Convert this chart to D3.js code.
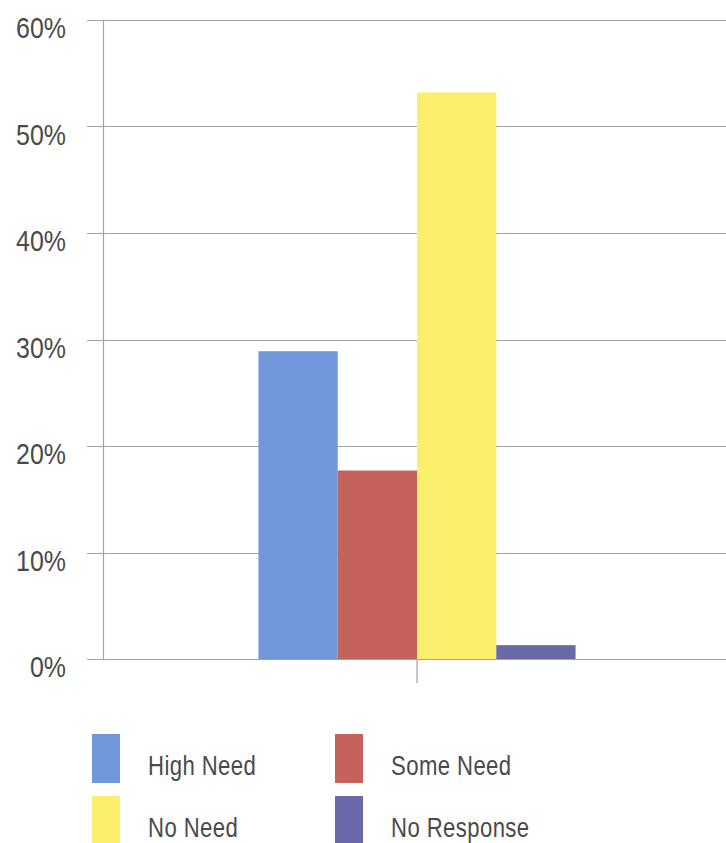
<!DOCTYPE html>
<html>
<head>
<meta charset="utf-8">
<script src="https://cdn.jsdelivr.net/npm/d3@7"></script>
<style>
  html, body { margin: 0; padding: 0; background: #fff; }
  svg { display: block; }
  text { font-family: "Liberation Sans", Arial, sans-serif; fill: #4a4a4a; }
</style>
</head>
<body>
<svg id="chart" width="726" height="843"></svg>
<script>
// Share of respondents by level of need
const categories = [""];
const seriesNames = ["High Need", "Some Need", "No Need", "No Response"];
const seriesValues = [0.289, 0.177, 0.532, 0.013];
const seriesColors = ["#7097d9", "#c4625c", "#fbef6c", "#6b6aa8"];
const yTicks = [0, 0.1, 0.2, 0.3, 0.4, 0.5, 0.6];

const svg = d3.select("#chart");
const plot = { left: 103, right: 731, top: 20, bottom: 659 };

// narrow lettering: regular sans squeezed horizontally
const tickSqueeze = 0.86;
const legendSqueeze = 0.82;

const y = d3.scaleLinear().domain([0, 0.6]).range([plot.bottom, plot.top]);

const x0 = d3.scaleBand()
  .domain(categories)
  .range([plot.left, plot.right])
  .paddingInner(0)
  .paddingOuter(0.49);

const x1 = d3.scaleBand()
  .domain(seriesNames)
  .range([0, x0.bandwidth()])
  .padding(0);

// horizontal gridlines (reaching slightly left of the axis as tick marks)
svg.append("g")
  .selectAll("line")
  .data(yTicks)
  .join("line")
  .attr("x1", plot.left - 16)
  .attr("x2", plot.right)
  .attr("y1", d => Math.round(y(d)) + 0.5)
  .attr("y2", d => Math.round(y(d)) + 0.5)
  .attr("stroke", "#a3a3a3")
  .attr("stroke-width", 1.2);

// y axis with percentage labels
const yAxis = d3.axisLeft(y)
  .tickValues(yTicks)
  .tickFormat(d3.format(".0%"))
  .tickSize(0)
  .tickPadding(37);

const gy = svg.append("g")
  .attr("transform", `translate(${plot.left},0)`)
  .call(yAxis);
gy.select(".domain").attr("stroke", "#a3a3a3").attr("stroke-width", 1.2);
gy.selectAll(".tick text")
  .attr("x", null)
  .attr("dy", "0.62em")
  .attr("transform", `translate(-37,0) scale(${tickSqueeze},1)`)
  .style("font-size", "29px")
  .style("fill", "#4a4a4a");

// bars
const groups = svg.append("g")
  .selectAll("g")
  .data(categories)
  .join("g")
  .attr("transform", d => `translate(${x0(d)},0)`);

groups.selectAll("rect")
  .data(() => seriesNames.map((name, i) => ({ name, value: seriesValues[i], color: seriesColors[i] })))
  .join("rect")
  .attr("x", d => x1(d.name))
  .attr("width", x1.bandwidth())
  .attr("y", d => y(d.value))
  .attr("height", d => y(0) - y(d.value))
  .attr("fill", d => d.color);

// category tick below the axis
const xAxis = d3.axisBottom(x0).tickSize(24).tickFormat(() => "");
const gx = svg.append("g")
  .attr("transform", `translate(0,${plot.bottom})`)
  .call(xAxis);
gx.select(".domain").remove();
gx.selectAll(".tick line").attr("stroke", "#a3a3a3").attr("stroke-width", 1.2);

// legend: two columns, two rows
const legendPos = [
  { x: 92, y: 734 },
  { x: 335, y: 734 },
  { x: 92, y: 796 },
  { x: 335, y: 796 }
];
const legend = svg.append("g")
  .selectAll("g")
  .data(seriesNames)
  .join("g")
  .attr("transform", (d, i) => `translate(${legendPos[i].x},${legendPos[i].y})`);

legend.append("rect")
  .attr("width", 28)
  .attr("height", 49)
  .attr("fill", (d, i) => seriesColors[i]);

legend.append("text")
  .attr("transform", `translate(56,41) scale(${legendSqueeze},1)`)
  .style("font-size", "27px")
  .style("letter-spacing", "0.5px")
  .text(d => d);
</script>
</body>
</html>
